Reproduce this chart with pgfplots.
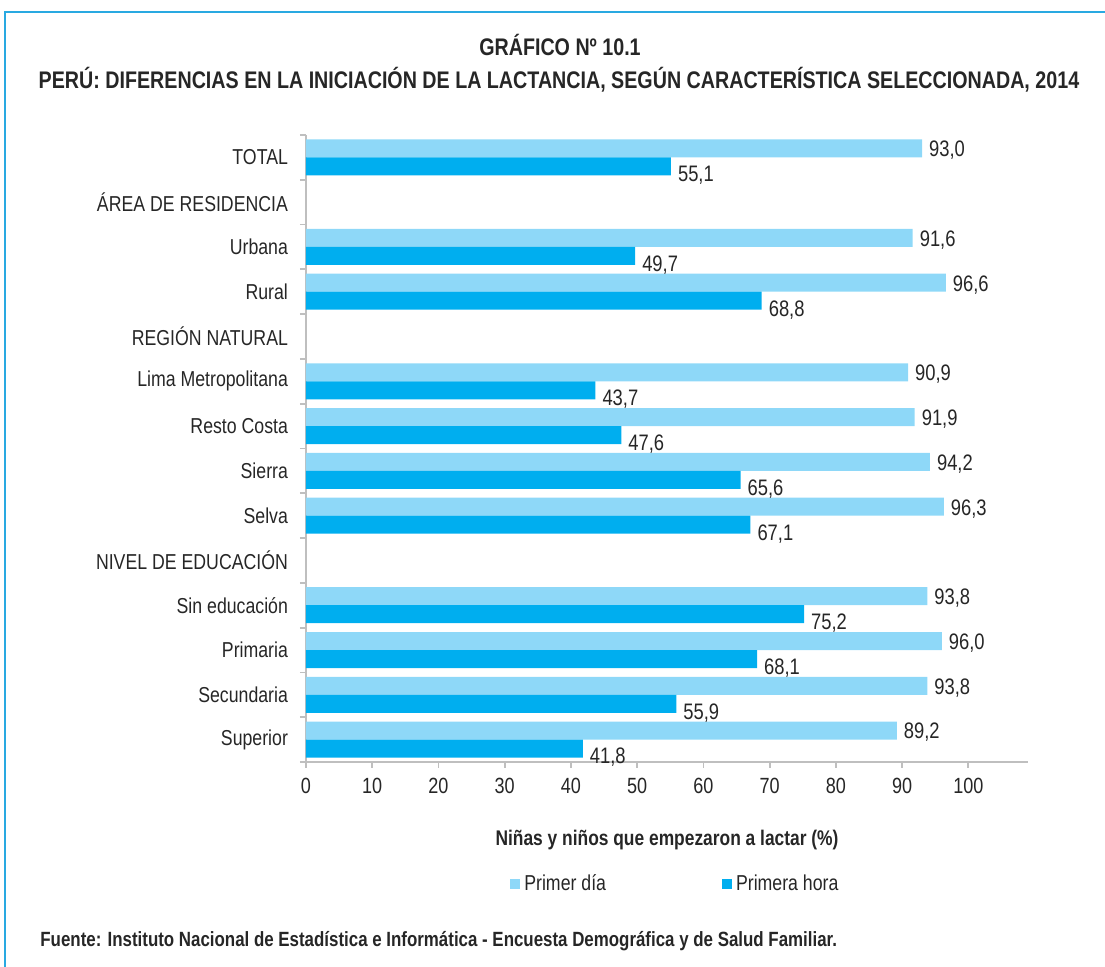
\documentclass[border=0pt]{standalone}
\usepackage{pgfplots}
\pgfplotsset{compat=1.18}
\usepackage{fontspec}
\setmainfont{Liberation Sans}[FakeStretch=0.82]
\definecolor{light}{HTML}{8ED8F8}
\definecolor{dark}{HTML}{00AEEF}
\definecolor{framec}{HTML}{29A9E1}
\definecolor{axgrey}{HTML}{BFBFBF}
\begin{document}
\begin{tikzpicture}
\path[use as bounding box] (0,0) rectangle (1105*0.5pt,-967*0.5pt);
\draw[framec, line width=1.1pt] (5*0.5pt,-967*0.5pt) -- (5*0.5pt,-12*0.5pt) -- (1105*0.5pt,-12*0.5pt);
\node[font=\bfseries\fontsize{12}{14}\selectfont, text=black!85] at (560*0.5pt,-45*0.5pt) {GRÁFICO Nº 10.1};
\node[font=\bfseries\fontsize{12}{14}\selectfont, text=black!85] at (559*0.5pt,-80*0.5pt) {PERÚ: DIFERENCIAS EN LA INICIACIÓN DE LA LACTANCIA, SEGÚN CARACTERÍSTICA SELECCIONADA, 2014};
\node[font=\bfseries\fontsize{10.3}{12}\selectfont, text=black!85, anchor=west, inner sep=0pt] at (40*0.5pt,-941*0.5pt) {Fuente: Instituto Nacional de Estadística e Informática - Encuesta Demográfica y de Salud Familiar.};
\begin{axis}[
  at={(306*0.5pt,-762*0.5pt)}, anchor=south west,
  scale only axis, width=361pt, height=313.5pt,
  xmin=0, xmax=109, ymin=-0.5, ymax=13.5,
  xbar, bar width=9pt,
  axis x line*=bottom, axis y line*=left,
  axis line style={-, draw=axgrey, line width=0.9pt},
  xtick={0,10,...,100},
  x tick style={draw=axgrey, line width=0.9pt},
  major tick length=3pt, minor tick length=3pt,
  tick align=outside,
  ytick={0,...,13},
  major y tick style={draw=none},
  minor ytick={-0.5,0.5,...,13.5},
  minor y tick style={draw=axgrey, line width=0.9pt},
  yticklabels={Superior, Secundaria, Primaria, Sin educación, NIVEL DE EDUCACIÓN, Selva, Sierra, Resto Costa, Lima Metropolitana, REGIÓN NATURAL, Rural, Urbana, ÁREA DE RESIDENCIA, TOTAL},
  yticklabel style={font=\fontsize{10.8}{13}\selectfont, text=black!85, xshift=-2.5pt},
  xticklabel style={font=\fontsize{11}{13}\selectfont, text=black!85, yshift=-1.5pt},
  /pgf/number format/assume math mode=true,
  xlabel={Niñas y niños que empezaron a lactar (\%)},
  xlabel style={font=\bfseries\fontsize{10.6}{12}\selectfont, text=black!85, at={(axis description cs:0.5,-0.124)}, anchor=center},
  point meta=x,
  nodes near coords={\pgfmathprintnumber[fixed,fixed zerofill,precision=1,use comma,assume math mode=true]{\pgfplotspointmeta}},
  nodes near coords align={horizontal},
  every node near coord/.append style={font=\fontsize{11.2}{13}\selectfont, text=black!85},
  legend columns=2,
  legend style={draw=none, fill=none, at={(axis description cs:0.513,-0.1946)}, anchor=center, font=\fontsize{10.8}{12}\selectfont, text=black!85, nodes={inner xsep=2pt}, /tikz/every even column/.append style={column sep=56pt}},
  legend image code/.code={\fill[#1] (0pt,-2.5pt) rectangle (5pt,2.5pt);},
]
\addplot[fill=light, draw=none, bar shift=4.5pt, every node near coord/.append style={yshift=-1pt}] coordinates {
(93.0,13) (91.6,11) (96.6,10) (90.9,8) (91.9,7) (94.2,6) (96.3,5) (93.8,3) (96.0,2) (93.8,1) (89.2,0)};
\addplot[fill=dark, draw=none, bar shift=-4.5pt, every node near coord/.append style={yshift=-4.5pt}] coordinates {
(55.1,13) (49.7,11) (68.8,10) (43.7,8) (47.6,7) (65.6,6) (67.1,5) (75.2,3) (68.1,2) (55.9,1) (41.8,0)};
\legend{Primer día, Primera hora}
\end{axis}
\end{tikzpicture}
\end{document}
